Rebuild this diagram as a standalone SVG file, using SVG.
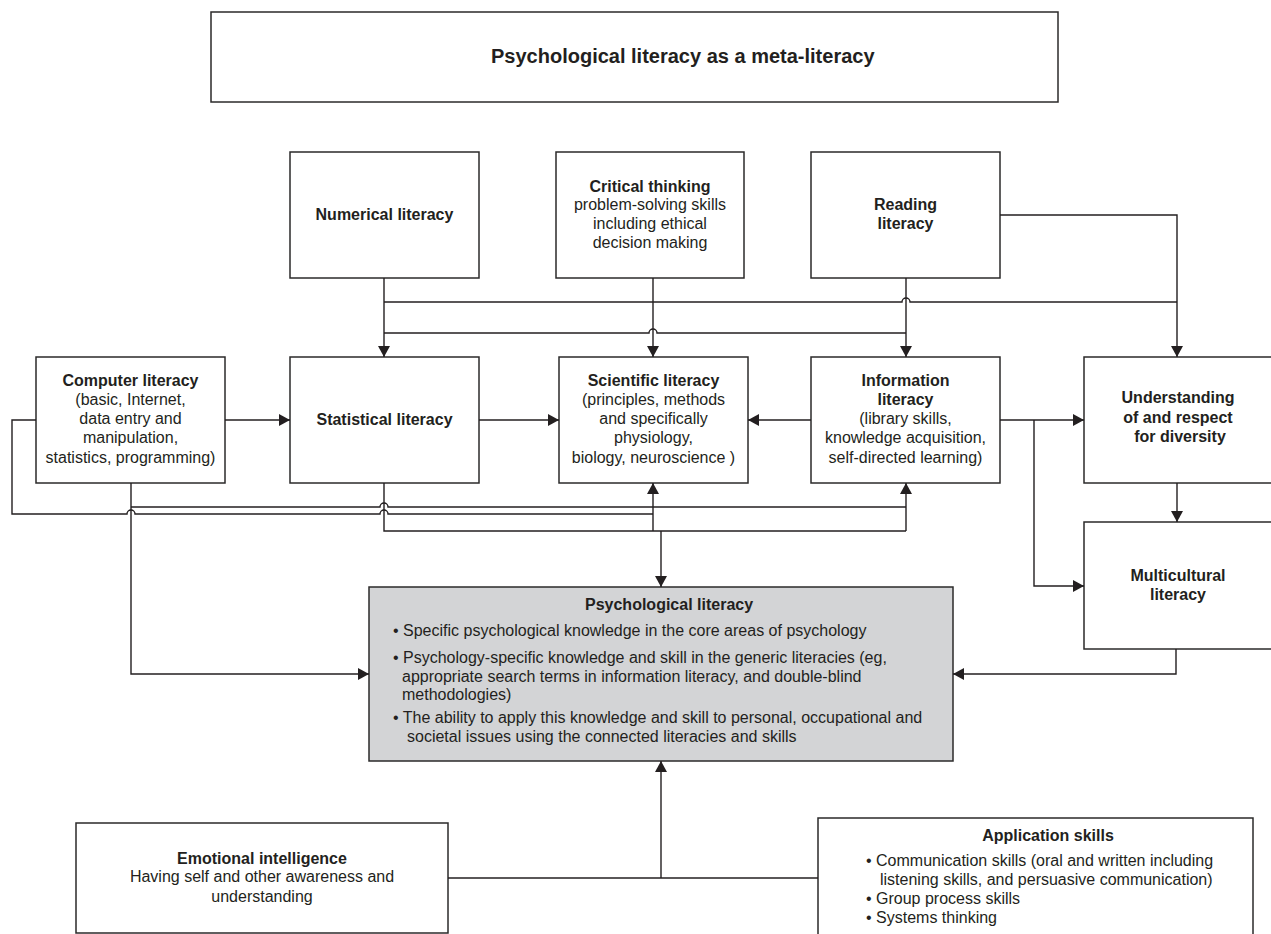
<svg xmlns="http://www.w3.org/2000/svg" width="1271" height="934" viewBox="0 0 1271 934">
<style>
.box{fill:#fff;stroke:#2b2a2a;stroke-width:1.5}
.grey{fill:#d3d4d6;stroke:#2b2a2a;stroke-width:1.5}
.t{font-family:"Liberation Sans",Arial,sans-serif;font-size:16px;fill:#231f20}
.b{font-weight:bold}
.c{text-anchor:middle}
.ln{fill:none;stroke:#231f20;stroke-width:1.4}
.ar{marker-end:url(#ah)}
</style>
<defs>
<marker id="ah" markerUnits="userSpaceOnUse" markerWidth="12" markerHeight="12" refX="11" refY="6" orient="auto">
<path d="M0,0 L11,6 L0,12 Z" fill="#231f20"/>
</marker>
</defs>
<rect width="1271" height="934" fill="#fff"/>

<g id="title">
<rect class="box" x="211" y="12" width="847" height="90"/>
<text class="t b" x="491" y="63" style="font-size:20px">Psychological literacy as a meta-literacy</text>
</g>

<g id="numerical">
<rect class="box" x="290" y="152" width="189" height="126"/>
<text class="t b c" x="384.5" y="220">Numerical literacy</text>
</g>

<g id="critical">
<rect class="box" x="556" y="152" width="188" height="126"/>
<text class="t c" x="650" y="192"><tspan class="b">Critical thinking</tspan><tspan x="650" y="210">problem-solving skills</tspan><tspan x="650" y="229">including ethical</tspan><tspan x="650" y="248">decision making</tspan></text>
</g>

<g id="reading">
<rect class="box" x="811" y="152" width="189" height="126"/>
<text class="t b c" x="905.5" y="210">Reading<tspan x="905.5" y="229">literacy</tspan></text>
</g>

<g id="computer">
<rect class="box" x="36" y="357" width="189" height="126"/>
<text class="t c" x="130.5" y="386"><tspan class="b">Computer literacy</tspan><tspan x="130.5" y="405">(basic, Internet,</tspan><tspan x="130.5" y="424">data entry and</tspan><tspan x="130.5" y="443">manipulation,</tspan><tspan x="130.5" y="463">statistics, programming)</tspan></text>
</g>

<g id="statistical">
<rect class="box" x="290" y="357" width="189" height="126"/>
<text class="t b c" x="384.5" y="425">Statistical literacy</text>
</g>

<g id="scientific">
<rect class="box" x="559" y="357" width="189" height="126"/>
<text class="t c" x="653.5" y="386"><tspan class="b">Scientific literacy</tspan><tspan x="653.5" y="405">(principles, methods</tspan><tspan x="653.5" y="424">and specifically</tspan><tspan x="653.5" y="443">physiology,</tspan><tspan x="653.5" y="463">biology, neuroscience )</tspan></text>
</g>

<g id="information">
<rect class="box" x="811" y="357" width="189" height="126"/>
<text class="t c" x="905.5" y="386"><tspan class="b">Information</tspan><tspan class="b" x="905.5" y="405">literacy</tspan><tspan x="905.5" y="424">(library skills,</tspan><tspan x="905.5" y="443">knowledge acquisition,</tspan><tspan x="905.5" y="463">self-directed learning)</tspan></text>
</g>

<g id="understanding">
<rect class="box" x="1084" y="357" width="192" height="126"/>
<text class="t b c" x="1178" y="403">Understanding<tspan x="1178" y="423">of and respect</tspan><tspan x="1180" y="442">for diversity</tspan></text>
</g>

<g id="multicultural">
<rect class="box" x="1084" y="522" width="192" height="127"/>
<text class="t b c" x="1178" y="581">Multicultural<tspan x="1178" y="600">literacy</tspan></text>
</g>

<g id="psychological">
<rect class="grey" x="369" y="587" width="584" height="174"/>
<text class="t b" x="585" y="610">Psychological literacy</text>
<text class="t" x="393" y="636">• Specific psychological knowledge in the core areas of psychology</text>
<text class="t" x="393" y="663">• Psychology-specific knowledge and skill in the generic literacies (eg,</text>
<text class="t" x="402" y="682">appropriate search terms in information literacy, and double-blind</text>
<text class="t" x="402" y="700">methodologies)</text>
<text class="t" x="393" y="723">• The ability to apply this knowledge and skill to personal, occupational and</text>
<text class="t" x="407" y="742">societal issues using the connected literacies and skills</text>
</g>

<g id="emotional">
<rect class="box" x="76" y="823" width="372" height="110"/>
<text class="t c" x="262" y="864"><tspan class="b">Emotional intelligence</tspan><tspan x="262" y="882">Having self and other awareness and</tspan><tspan x="262" y="902">understanding</tspan></text>
</g>

<g id="application">
<rect class="box" x="818" y="818" width="435" height="130"/>
<text class="t b c" x="1048" y="841">Application skills</text>
<text class="t" x="866" y="866">• Communication skills (oral and written including</text>
<text class="t" x="880" y="885">listening skills, and persuasive communication)</text>
<text class="t" x="866" y="904">• Group process skills</text>
<text class="t" x="866" y="923">• Systems thinking</text>
</g>

<g id="connectors">
<path class="ln ar" d="M384,278 V357"/>
<path class="ln" d="M384,302 H902 a4,4 0 0 1 8,0 H1177"/>
<path class="ln" d="M384,333 H649 a4,4 0 0 1 8,0 H906"/>
<path class="ln ar" d="M653,278 V357"/>
<path class="ln ar" d="M906,278 V357"/>
<path class="ln ar" d="M1000,215 H1177 V357"/>
<path class="ln ar" d="M225,420 H290"/>
<path class="ln ar" d="M479,420 H559"/>
<path class="ln ar" d="M811,420 H748"/>
<path class="ln ar" d="M1000,420 H1084"/>
<path class="ln ar" d="M1034,420 V586 H1084"/>
<path class="ln ar" d="M1177,483 V522"/>
<path class="ln ar" d="M1176,649 V674 H953"/>
<path class="ln ar" d="M131,483 V674 H369"/>
<path class="ln" d="M36,420 H12 V514 H127 a4,4 0 0 1 8,0 H380 a4,4 0 0 1 8,0 H653"/>
<path class="ln" d="M131,507 H380 a4,4 0 0 1 8,0 H906"/>
<path class="ln" d="M384,483 V531 H906"/>
<path class="ln ar" d="M653,531 V483"/>
<path class="ln ar" d="M906,531 V483"/>
<path class="ln ar" d="M661,531 V587"/>
<path class="ln" d="M448,878 H818"/>
<path class="ln ar" d="M661,878 V761"/>
</g>
</svg>
